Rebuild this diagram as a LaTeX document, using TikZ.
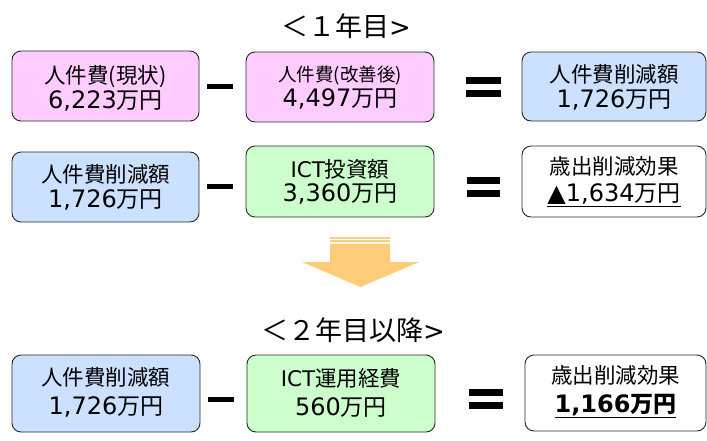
\documentclass[tikz,border=0pt]{standalone}
\usepackage{fontspec}
\setmainfont{DejaVu Sans}
\newfontfamily\jp{Noto Sans CJK JP}
\definecolor{pinkc}{RGB}{255,204,255}
\definecolor{bluec}{RGB}{204,224,255}
\definecolor{greenc}{RGB}{204,255,204}
\definecolor{arrowc}{RGB}{255,204,122}
\definecolor{edgec}{RGB}{40,40,40}
\newcommand\lab[1]{{\jp\fontsize{21.5}{24}\selectfont #1}}
\newcommand\smalllab[1]{{\jp\fontsize{18.5}{24}\selectfont #1}}
\newcommand\lat[1]{{\fontsize{21.5}{24}\selectfont #1}}
\newcommand\num[1]{{\fontsize{24}{24}\selectfont #1}{\jp\fontsize{23}{24}\selectfont 万円}}
\newcommand\gtsign{{\rmfamily\fontsize{26}{28}\selectfont >}}
\tikzset{
  box/.style={draw=edgec, line width=0.9pt, rounded corners=9pt, inner sep=0pt},
  txt/.style={align=center, inner sep=0pt, font=\fontsize{20}{24}\selectfont},
  opbar/.style={fill=black, draw=none},
  title/.style={inner sep=0pt, font=\jp\fontsize{27}{28}\selectfont},
}
\begin{document}
\begin{tikzpicture}[x=1pt,y=-1pt]
\useasboundingbox (0,0) rectangle (707,440);

% titles
\node[title] (t1) at (346,26.5) {＜１年目\gtsign};
\node[title] (t2) at (353,330) {＜２年目以降\gtsign};

% row 1
\node[box, fill=pinkc, minimum width=187pt, minimum height=70pt] (a) at (105.5,86) {};
\node[txt] (at) at ([yshift=-2pt]a.center) {\lab{人件費(現状)}\\[1pt]\num{6,223}};
\node[box, fill=pinkc, minimum width=188pt, minimum height=70pt] (b) at (340,87) {};
\node[txt] (bt) at ([yshift=-1pt]b.center) {\smalllab{人件費(改善後)}\\[1pt]\num{4,497}};
\node[box, fill=bluec, minimum width=184pt, minimum height=69pt] (c) at (614,86.5) {};
\node[txt] (ct) at ([yshift=-1pt]c.center) {\lab{人件費削減額}\\[1pt]\num{1,726}};

% row 2
\node[box, fill=bluec, minimum width=187pt, minimum height=70pt] (d) at (105.5,187) {};
\node[txt] (dt) at (d.center) {\lab{人件費削減額}\\[1pt]\num{1,726}};
\node[box, fill=greenc, minimum width=188pt, minimum height=71pt] (e) at (340,181.5) {};
\node[txt] (et) at (e.center) {\lat{ICT}\lab{投資額}\\[0pt]\num{3,360}};
\node[box, fill=white, minimum width=184pt, minimum height=71pt] (f) at (614,181.5) {};
\node[txt] (ft) at (f.center) {\lab{歳出削減効果}\\[3pt]\underline{\num{▲1,634}}};

% row 3
\node[box, fill=bluec, minimum width=188pt, minimum height=77pt] (g) at (106,393.5) {};
\node[txt] (gt) at ([yshift=1pt]g.center) {\lab{人件費削減額}\\[5pt]\num{1,726}};
\node[box, fill=greenc, minimum width=188pt, minimum height=77pt] (h) at (341,393.5) {};
\node[txt] (ht) at ([yshift=1pt]h.center) {\lat{ICT}\lab{運用経費}\\[5pt]\num{560}};
\node[box, fill=white, minimum width=181pt, minimum height=76pt] (i) at (615.5,393) {};
\node[txt] (it) at ([yshift=1pt]i.center) {\lab{歳出削減効果}\\[5pt]\underline{\bfseries\num{1,166}}};

% minus signs
\fill[opbar] (207,84) rectangle (233,89);
\fill[opbar] (207,183.5) rectangle (233,188.5);
\fill[opbar] (208,397) rectangle (234,402);

% equal signs
\fill[opbar] (466,77) rectangle (501,84);
\fill[opbar] (466,89.5) rectangle (501,97);
\fill[opbar] (467,177) rectangle (500,184);
\fill[opbar] (467,189.5) rectangle (500,197);
\fill[opbar] (469,389) rectangle (503,396);
\fill[opbar] (469,401.5) rectangle (503,409);

% arrow
\fill[arrowc] (330,237) rectangle (390,238.5);
\fill[arrowc] (330,240) rectangle (390,242.3);
\fill[arrowc] (330,243.8) -- (390,243.8) -- (390,262) -- (419,262) -- (360.5,287)
  -- (302,262) -- (330,262) -- cycle;
\end{tikzpicture}
\end{document}
